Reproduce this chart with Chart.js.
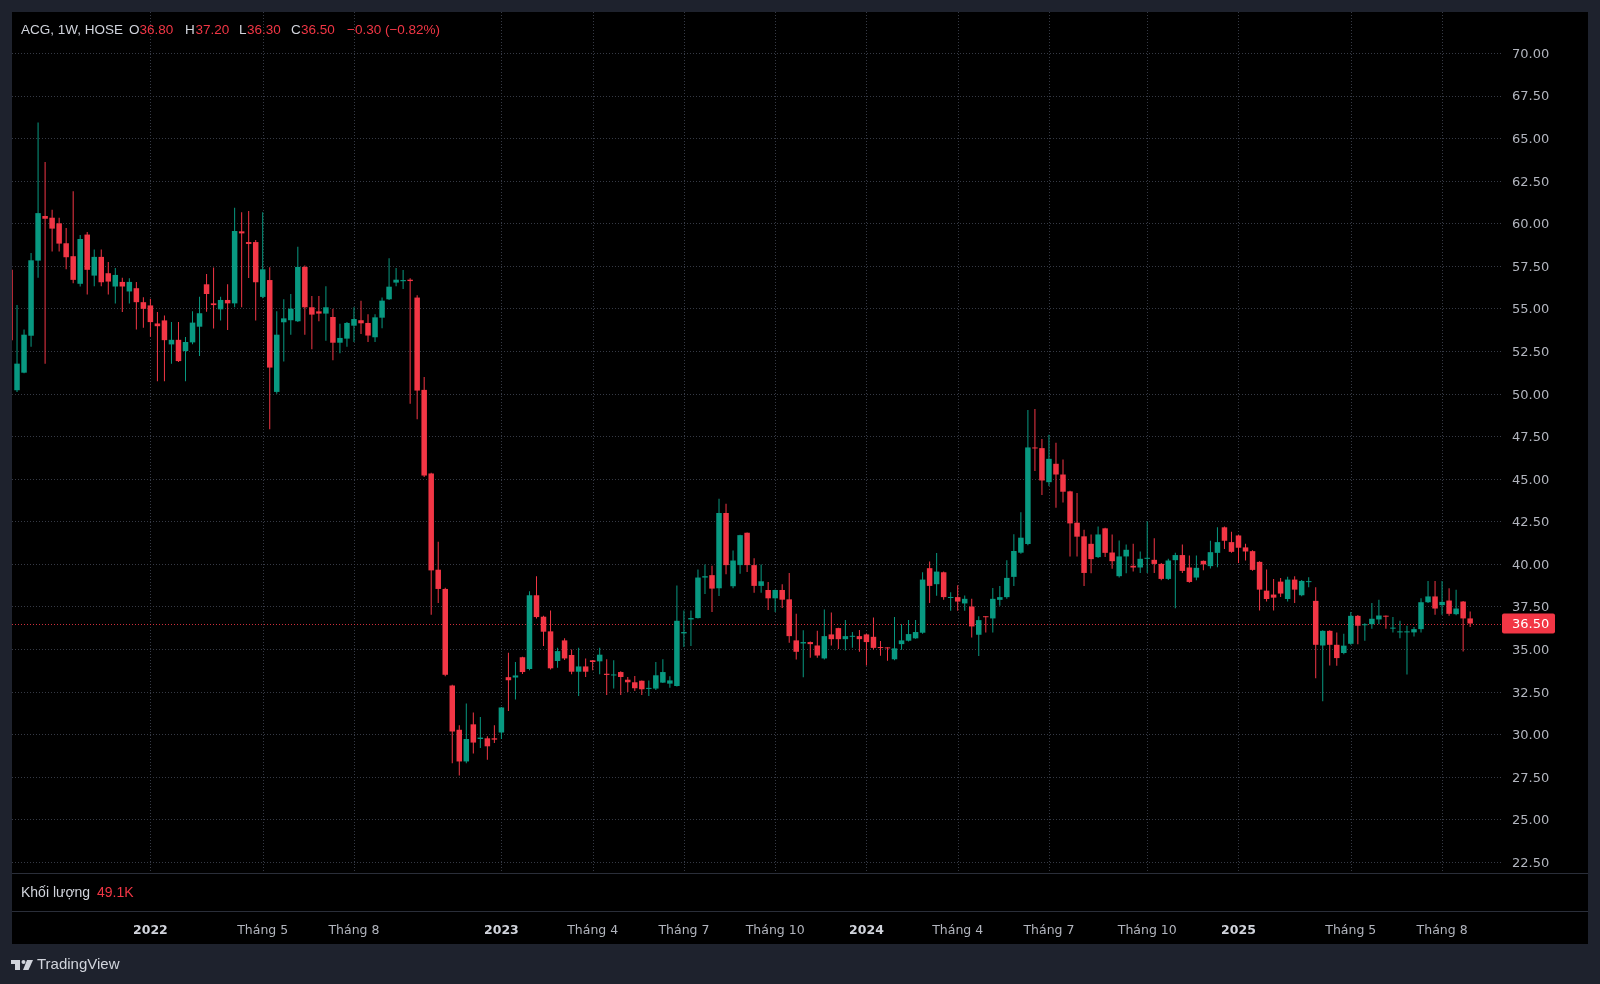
<!DOCTYPE html>
<html>
<head>
<meta charset="utf-8">
<title>ACG, 1W, HOSE</title>
<script src="https://cdn.jsdelivr.net/npm/chart.js@4.4.1/dist/chart.umd.min.js"></script>
<style>
  html, body { margin: 0; padding: 0; background: #1e222d; }
  canvas { display: block; }
</style>
</head>
<body>
<canvas id="myChart" width="1600" height="984"></canvas>
<script>
"use strict"

// Weekly candles, oldest first
const opens = [
  57.27,50.2,51.23,53.4,57.81,60.43,60.33,60.0,58.83,58.07,
  56.45,59.34,56.93,58.03,57.07,56.29,56.56,56.0,56.19,55.37,
  55.18,54.12,54.3,52.89,53.16,52.5,53.01,53.93,56.42,55.3,
  54.95,55.5,55.3,59.53,58.9,58.9,55.68,56.67,50.1,54.19,
  54.31,54.25,57.44,55.07,54.83,54.7,54.5,52.99,53.23,53.99,
  54.31,54.15,53.31,54.46,55.54,56.52,56.6,56.69,55.64,50.22,
  45.31,39.66,38.53,32.86,30.26,28.4,30.58,29.72,29.76,29.76,
  30.1,33.35,33.33,34.52,33.83,38.16,36.9,36.04,34.3,35.51,
  34.65,33.67,33.98,34.34,34.28,33.55,33.45,33.65,33.2,33.05,
  33.14,32.66,32.68,33.03,32.97,32.83,35.92,36.74,36.82,39.2,
  39.34,38.57,42.99,38.69,39.93,41.83,39.93,38.71,38.47,37.98,
  38.47,37.92,35.51,35.33,35.41,35.21,34.45,35.86,36.23,35.58,
  35.72,35.76,35.86,35.72,35.1,35.08,34.4,35.29,35.49,35.63,
  35.96,39.75,38.81,39.51,38.0,38.05,37.68,37.5,35.84,36.91,
  36.8,37.89,38.05,39.24,40.66,41.17,46.82,46.8,44.8,45.88,
  45.25,44.26,42.42,41.62,41.18,40.4,42.09,40.67,39.28,40.44,
  39.89,39.79,40.3,40.24,40.0,39.12,40.22,40.52,39.79,39.2,
  40.18,39.87,40.65,42.15,41.28,41.67,40.97,40.75,40.12,38.43,
  38.2,38.96,37.94,39.08,38.16,38.93,37.83,35.21,36.07,35.25,
  34.77,35.31,36.95,36.4,36.46,36.74,36.95,36.2,35.98,35.98,
  35.98,36.17,37.75,38.09,37.58,37.85,37.05,37.79,36.8
];
const highs = [
  57.5,55.2,53.77,58.26,65.92,63.6,60.8,60.33,59.73,61.88,
  59.32,59.49,58.46,58.46,57.73,57.38,56.8,56.78,56.56,55.66,
  55.57,54.8,54.59,54.2,54.2,53.32,54.83,55.69,57.03,57.4,
  55.69,56.42,60.92,60.65,60.72,59.02,60.65,57.42,54.83,55.54,
  55.85,58.63,57.53,55.73,55.73,56.3,54.99,54.11,54.2,55.07,
  55.46,54.66,54.66,55.64,57.95,57.38,57.26,56.77,55.77,50.98,
  45.35,41.3,38.6,32.9,30.52,31.81,31.27,31.01,29.88,30.52,
  31.6,34.78,34.24,34.55,38.4,39.28,36.95,37.27,35.08,35.64,
  34.98,35.08,34.45,34.36,35.08,34.4,34.34,33.7,33.36,33.42,
  33.16,33.16,34.24,34.4,33.4,38.73,37.27,37.27,39.67,39.96,
  39.89,43.82,43.54,40.79,41.72,41.85,40.34,39.97,38.94,38.5,
  38.81,39.46,37.08,36.1,35.45,36.08,37.33,37.14,36.25,36.7,
  36.0,36.12,35.9,36.86,35.47,35.1,36.88,36.46,36.7,36.7,
  39.51,40.14,40.64,39.55,38.34,38.75,38.14,37.95,36.93,36.93,
  38.59,38.71,40.21,41.74,43.03,49.04,49.1,47.34,47.58,47.11,
  46.13,44.3,44.16,42.0,41.73,42.19,42.12,41.73,41.38,41.14,
  41.18,40.73,42.5,41.5,40.05,40.3,40.65,41.14,40.5,40.5,
  40.2,41.36,42.15,42.2,41.89,41.7,41.18,40.8,40.15,39.67,
  39.12,39.18,39.24,39.28,39.05,39.22,38.63,36.1,36.1,35.98,
  35.9,37.17,37.0,36.52,37.7,37.89,36.97,36.88,36.66,36.37,
  36.29,37.99,39.0,39.0,39.0,38.57,38.48,37.82,37.2
];
const lows = [
  53.0,50.1,51.2,52.75,56.8,51.76,58.34,58.34,57.3,56.48,
  56.29,55.82,56.31,56.31,55.82,55.29,54.8,55.29,53.77,53.87,
  53.34,50.72,50.72,51.76,51.85,50.72,52.9,52.21,54.81,53.82,
  54.29,53.74,55.07,55.07,56.79,54.29,55.6,47.91,50.0,51.88,
  53.46,54.2,53.46,52.6,54.25,53.11,51.96,52.37,52.76,53.03,
  53.5,53.03,53.03,53.84,55.5,56.3,56.14,49.41,48.49,45.1,
  37.02,37.71,33.4,28.3,27.58,28.3,28.87,29.19,28.5,29.49,
  29.72,31.37,32.04,33.53,33.75,36.8,35.18,33.8,33.91,34.36,
  33.52,32.25,33.36,33.75,33.52,32.3,32.68,32.3,32.48,32.54,
  32.3,32.25,32.6,33.0,32.73,32.8,35.12,35.18,36.8,38.24,
  37.18,38.12,39.4,38.57,39.42,39.53,38.3,38.3,37.29,37.18,
  37.41,35.37,34.39,33.35,34.49,34.49,34.39,35.21,35.01,34.92,
  35.07,34.84,34.03,34.98,34.61,34.32,34.35,34.96,35.45,35.6,
  35.9,37.71,38.13,37.89,37.25,37.25,37.25,35.68,34.59,35.98,
  35.98,37.54,37.95,38.71,40.6,41.1,45.45,44.04,44.57,43.3,
  43.61,40.43,40.43,38.71,39.45,40.35,40.4,39.71,39.2,39.45,
  39.55,39.47,39.47,39.47,39.04,39.05,37.39,39.47,38.9,39.04,
  39.63,39.73,39.81,40.87,40.65,40.06,40.2,39.6,37.27,37.8,
  37.27,38.06,37.8,37.7,38.1,38.63,33.28,31.93,34.04,34.02,
  34.7,35.25,35.29,35.49,36.19,36.46,36.19,35.98,35.64,33.5,
  35.74,35.98,37.7,37.01,37.01,36.95,36.99,34.86,36.3
];
const closes = [
  53.13,51.76,53.46,57.83,60.6,60.27,59.69,58.81,58.01,56.68,
  59.08,57.27,58.03,56.54,56.58,56.97,56.29,56.56,55.37,54.98,
  54.2,53.96,53.14,53.16,51.91,53.03,54.17,54.72,55.85,55.2,
  55.5,55.3,59.55,59.41,58.79,56.54,57.3,51.53,53.46,54.42,
  54.99,57.44,55.07,54.64,54.7,55.07,52.99,53.27,54.15,54.38,
  54.13,53.41,54.48,55.46,56.28,56.69,56.67,56.61,50.18,45.19,
  39.62,38.53,33.49,30.16,28.4,29.72,29.51,29.8,29.29,29.68,
  31.57,33.17,33.45,33.65,38.16,36.88,36.02,33.87,34.88,34.45,
  33.67,33.98,33.67,34.24,34.67,33.48,33.5,33.36,33.05,32.7,
  32.64,32.72,33.46,33.65,33.16,36.66,36.0,36.82,39.2,39.28,
  38.55,42.99,39.93,40.2,41.69,39.93,38.71,38.98,37.98,38.47,
  37.9,35.76,34.84,35.41,35.29,34.62,35.76,35.58,35.58,35.76,
  35.76,35.58,35.41,35.07,35.06,35.04,35.04,35.51,35.88,36.0,
  39.08,38.71,39.55,38.05,38.06,37.79,37.95,36.33,36.7,36.87,
  37.95,38.05,39.18,40.76,41.54,46.84,46.78,44.9,46.17,45.25,
  44.24,42.38,41.6,39.47,40.28,41.73,40.65,40.16,40.44,40.83,
  39.79,40.3,40.34,40.0,39.12,40.2,40.52,39.59,38.94,39.77,
  39.97,40.69,41.28,41.36,40.71,40.95,40.73,39.65,38.49,37.94,
  38.02,38.26,39.08,38.49,39.0,38.98,35.25,36.07,35.25,34.47,
  35.2,36.95,36.37,36.45,36.78,36.97,36.9,36.25,36.02,36.02,
  36.17,37.75,38.09,37.38,37.77,37.07,37.38,36.8,36.5
];

// time axis: bar index of the first week of each labelled month
const timeTickIdx = [20, 36, 49, 70, 83, 96, 109, 122, 135, 148, 162, 175, 191, 204];
const timeTickLabels = ['2022', 'Tháng 5', 'Tháng 8', '2023', 'Tháng 4', 'Tháng 7', 'Tháng 10',
                        '2024', 'Tháng 4', 'Tháng 7', 'Tháng 10', '2025', 'Tháng 5', 'Tháng 8'];
const priceTicks = [22.5, 25, 27.5, 30, 32.5, 35, 37.5, 40, 42.5, 45, 47.5, 50,
                    52.5, 55, 57.5, 60, 62.5, 65, 67.5, 70];

const symbolText = 'ACG, 1W, HOSE';
const volumeLabel = 'Khối lượng';
const lastVolume = '49.1K';

const upColor = '#089981';
const downColor = '#f23645';

const candleColors = opens.map((o, i) => closes[i] >= o ? upColor : downColor);
const bodies = opens.map((o, i) => ({ x: i, y: [o, closes[i]] }));
const wicks = opens.map((o, i) => ({ x: i, y: [lows[i], highs[i]] }));

const fmt = v => v.toFixed(2);
const signed = v => (v < 0 ? '\u2212' : '+') + Math.abs(v).toFixed(2);

function hline(c, x1, x2, y) {
    c.beginPath(); c.moveTo(x1, y); c.lineTo(x2, y); c.stroke();
}
function vline(c, x, y1, y2) {
    c.beginPath(); c.moveTo(x, y1); c.lineTo(x, y2); c.stroke();
}

// no automatic label padding, so the plot area is exactly the layout padding
function noPad(s) {
    s.paddingTop = 0; s.paddingBottom = 0; s.paddingLeft = 0; s.paddingRight = 0;
}

const tvFrame = {
    id: 'tvFrame',
    beforeDraw(chart) {
        const c = chart.ctx;
        c.save();
        c.fillStyle = '#1e222d';
        c.fillRect(0, 0, chart.width, chart.height);
        c.fillStyle = '#000000';
        c.fillRect(12, 12, 1576, 932);
        c.restore();
    },
    beforeDatasetsDraw(chart) {
        const { ctx: c, chartArea: a, scales: { x, y } } = chart;
        c.save();
        c.strokeStyle = '#363a45';
        c.lineWidth = 1;
        c.setLineDash([1, 2]);
        y.ticks.forEach(t => {
            const py = Math.round(y.getPixelForValue(t.value)) + 0.5;
            hline(c, a.left, a.right, py);
        });
        timeTickIdx.forEach(i => {
            const px = Math.round(x.getPixelForValue(i)) + 0.5;
            vline(c, px, a.top, a.bottom);
        });

        // last price line
        const last = closes.length - 1;
        c.strokeStyle = 'rgba(242, 54, 69, 0.85)';
        const py = Math.round(y.getPixelForValue(closes[last])) + 0.5;
        hline(c, a.left, a.right, py);
        c.restore();
    },
    afterDraw(chart) {
        const { ctx: c, chartArea: a, scales: { x, y } } = chart;
        const last = closes.length - 1;
        c.save();

        // pane separators
        c.fillStyle = '#2a2e39';
        c.fillRect(12, 873, 1576, 1);
        c.fillRect(12, 911, 1576, 1);

        // last price tag on the axis
        const py = y.getPixelForValue(closes[last]);
        c.fillStyle = downColor;
        c.beginPath();
        c.roundRect(a.right, py - 10, 53, 20, 2);
        c.fill();
        c.fillStyle = '#ffffff';
        c.font = '13px "DejaVu Sans"';
        c.textBaseline = 'middle';
        c.textAlign = 'left';
        c.fillText(fmt(closes[last]), a.right + 10, py + 1);

        // header legend
        const change = closes[last] - closes[last - 1];
        const pct = change / closes[last - 1] * 100;
        const header = [
            [symbolText, 21, '#d1d4dc'],
            ['O', 129, '#d1d4dc'], [fmt(opens[last]), 139.5, downColor],
            ['H', 185, '#d1d4dc'], [fmt(highs[last]), 195.5, downColor],
            ['L', 239, '#d1d4dc'], [fmt(lows[last]), 247, downColor],
            ['C', 291, '#d1d4dc'], [fmt(closes[last]), 301, downColor],
            [signed(change) + ' (' + signed(pct) + '%)', 347, downColor]
        ];
        c.font = '13.5px "Liberation Sans"';
        header.forEach(([t, px, col]) => {
            c.fillStyle = col;
            c.fillText(t, px, 30);
        });

        // volume pane title
        c.font = '14px "Liberation Sans"';
        c.fillStyle = '#d1d4dc';
        c.fillText(volumeLabel, 21, 893);
        c.fillStyle = downColor;
        c.fillText(lastVolume, 97, 893);

        // time axis labels
        c.textAlign = 'center';
        timeTickIdx.forEach((i, k) => {
            const label = timeTickLabels[k];
            const isYear = /^\d{4}$/.test(label);
            c.font = (isYear ? 'bold ' : '') + '12.5px "DejaVu Sans"';
            c.fillStyle = isYear ? '#d1d4dc' : '#b2b5be';
            c.fillText(label, x.getPixelForValue(i), 930.5);
        });

        // TradingView mark
        c.fillStyle = '#d1d4dc';
        c.fillRect(11, 960, 9, 4);
        c.fillRect(15, 960, 5, 10);
        c.beginPath();
        c.arc(23.5, 962, 2, 0, Math.PI * 2);
        c.fill();
        c.beginPath();
        c.moveTo(27, 960); c.lineTo(33, 960); c.lineTo(28.5, 970); c.lineTo(23, 970);
        c.closePath();
        c.fill();
        c.textAlign = 'left';
        c.font = '15px "Liberation Sans"';
        c.fillText('TradingView', 37, 965);
        c.restore();
    }
};

const myChart = new Chart(document.getElementById('myChart').getContext('2d'), {
    type: 'bar',
    data: {
        datasets: [
            {
                label: 'body',
                data: bodies,
                backgroundColor: candleColors,
                barThickness: 5.5,
                minBarLength: 1,
                grouped: false,
                inflateAmount: 0,
                clip: 0
            },
            {
                label: 'wick',
                data: wicks,
                backgroundColor: candleColors,
                barThickness: 1,
                grouped: false,
                inflateAmount: 0,
                clip: 0
            }
        ]
    },
    options: {
        responsive: false,
        animation: false,
        devicePixelRatio: 1,
        layout: { padding: { left: 12, top: 12, right: 12, bottom: 111 } },
        plugins: {
            legend: { display: false },
            tooltip: { enabled: false }
        },
        scales: {
            x: {
                type: 'linear',
                display: false,
                offset: false,
                min: 0.285,
                max: 212.536,
                afterFit: noPad
            },
            y: {
                position: 'right',
                min: 21.85,
                max: 72.41,
                grid: { display: false, drawTicks: false },
                border: { display: false },
                afterBuildTicks: s => { s.ticks = priceTicks.map(v => ({ value: v })) },
                afterFit: s => { s.width = 86; noPad(s) },
                ticks: {
                    color: '#b2b5be',
                    font: { family: 'DejaVu Sans', size: 13 },
                    padding: 10,
                    labelOffset: 1.5,
                    crossAlign: 'near',
                    autoSkip: false,
                    callback: v => fmt(v)
                }
            }
        }
    },
    plugins: [tvFrame]
});
</script>
</body>
</html>
